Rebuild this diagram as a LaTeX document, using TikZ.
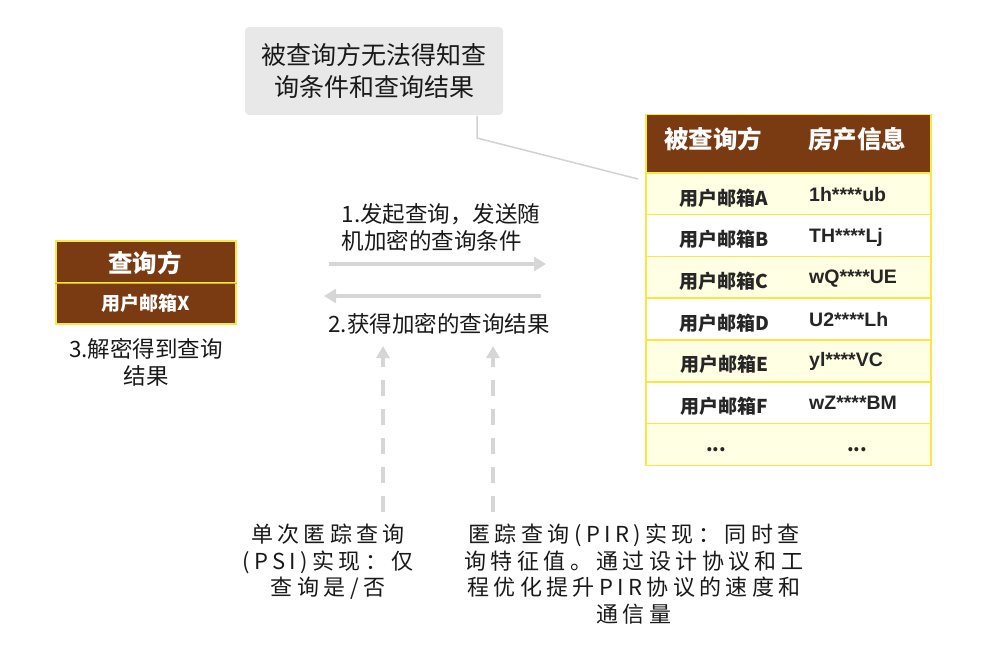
\documentclass[tikz,border=0pt]{standalone}
\usepackage{fontspec}
\setmainfont{Noto Sans CJK SC}
\newfontfamily\spaced[LetterSpace=20]{Noto Sans CJK SC}
\newfontfamily\arialfont[BoldFont={Liberation Sans Bold}]{Liberation Sans}
\usetikzlibrary{arrows.meta}
\definecolor{brownhdr}{RGB}{122,59,18}
\definecolor{ylborder}{RGB}{246,232,70}
\definecolor{goldline}{RGB}{214,178,20}
\definecolor{lightyl}{RGB}{255,255,228}
\definecolor{arrowgrey}{RGB}{214,214,214}
\definecolor{boxgrey}{RGB}{232,232,232}
\definecolor{linegrey}{RGB}{210,210,210}
\tikzset{
  hdrcell/.style={fill=brownhdr, draw=ylborder, line width=1.5pt, minimum height=58pt, inner sep=0pt},
  rowcellA/.style={fill=lightyl, draw=ylborder, line width=1.5pt, minimum height=41.8pt, minimum width=285pt, inner sep=0pt},
  rowcellB/.style={fill=white, draw=ylborder, line width=1.5pt, minimum height=41.8pt, minimum width=285pt, inner sep=0pt},
  rowtxt/.style={font=\fontsize{19}{20}\selectfont\bfseries, text=black!85, inner sep=0pt},
  valtxt/.style={font=\arialfont\bfseries\fontsize{19.5}{20}\selectfont, text=black!85, inner sep=0pt},
  hdrtxt/.style={font=\fontsize{24.5}{26}\selectfont\bfseries, text=white, inner sep=0pt},
  midtxt/.style={font=\fontsize{22.5}{27}\selectfont, text=black!90, align=left, inner sep=0pt},
  bottxt/.style={font=\spaced\fontsize{22}{26.5}\selectfont, text=black!90, align=center, inner sep=0pt},
  flowarrow/.style={draw=arrowgrey, line width=4pt, -{Triangle[length=12pt,width=14pt]}},
  dasharrow/.style={draw=arrowgrey, line width=4pt, dash pattern=on 16pt off 13pt, -{Triangle[length=12pt,width=13pt]}},
}
\begin{document}
\begin{tikzpicture}[x=1pt,y=-1pt]
\useasboundingbox (0,0) rectangle (985,650);
% title box
\node[fill=boxgrey, rounded corners=4pt, minimum width=258pt, minimum height=88pt, inner sep=0pt,
      font=\fontsize{25}{32}\selectfont, align=center, text=black!90] (title) at (374,71)
      {被查询方无法得知查\\询条件和查询结果};
\coordinate (bend) at (477,138);
\coordinate (tabcorner) at (638,179);
\draw[linegrey, line width=1.5pt] (477,116) -- (bend) -- (tabcorner);
% table
\node[hdrcell, minimum width=285pt, anchor=north west] (hdr) at (645,114) {};
\node[hdrtxt] (h1) at (713,139) {被查询方};
\node[hdrtxt] (h2) at (857,139) {房产信息};
\node[rowcellA, anchor=north west] (rA) at (645,172) {};
\node[rowcellB, anchor=north west] (rB) at (645,213.8) {};
\node[rowcellA, anchor=north west] (rC) at (645,255.6) {};
\node[rowcellB, anchor=north west] (rD) at (645,297.4) {};
\node[rowcellA, anchor=north west] (rE) at (645,339.2) {};
\node[rowcellB, anchor=north west] (rF) at (645,381) {};
\node[rowcellA, anchor=north west] (rG) at (645,422.8) {};
\node[rowtxt] (la) at (724,198) {用户邮箱A};
\node[rowtxt] (lb) at (724,239.5) {用户邮箱B};
\node[rowtxt] (lc) at (724,281.5) {用户邮箱C};
\node[rowtxt] (ld) at (724,323) {用户邮箱D};
\node[rowtxt] (le) at (724,364.5) {用户邮箱E};
\node[rowtxt] (lf) at (724,406) {用户邮箱F};
\node[rowtxt] (lg) at (716,450) {...};
\node[valtxt, anchor=west] (va) at (809,195) {1h****ub};
\node[valtxt, anchor=west] (vb) at (809,237) {TH****Lj};
\node[valtxt, anchor=west] (vc) at (809,278.5) {wQ****UE};
\node[valtxt, anchor=west] (vd) at (809,320) {U2****Lh};
\node[valtxt, anchor=west] (ve) at (809,361) {yl****VC};
\node[valtxt, anchor=west] (vf) at (809,402.5) {wZ****BM};
\node[rowtxt] (vg) at (857,450) {...};
% query box
\node[fill=brownhdr, draw=ylborder, line width=1.5pt, minimum width=180pt, minimum height=42pt, anchor=north west, inner sep=0pt] (qh) at (55,240) {};
\node[fill=brownhdr, draw=ylborder, line width=1.5pt, minimum width=180pt, minimum height=41pt, anchor=north west, inner sep=0pt] (qr) at (55,282) {};
\draw[goldline, line width=1.5pt] (qh.south west) -- (qh.south east);
\node[hdrtxt] (qht) at (145,263) {查询方};
\node[rowtxt, text=white] (qrt) at (146,303) {用户邮箱X};
\node[midtxt, align=center] (dec) at (146,362) {3.解密得到查询\\结果};
% flow arrows
\node[midtxt] (t1) at (441,227) {1.发起查询，发送随\\机加密的查询条件};
\coordinate (a1s) at (329,264);
\coordinate (a1e) at (546,264);
\draw[flowarrow] (a1s) -- (a1e);
\coordinate (a2s) at (541,296);
\coordinate (a2e) at (324,296);
\draw[flowarrow] (a2s) -- (a2e);
\node[midtxt] (t2) at (439,324) {2.获得加密的查询结果};
% dashed arrows
\node[bottxt] (psi) at (328,562) {单次匿踪查询\\(PSI)实现：仅\\查询是/否};
\node[bottxt] (pir) at (634,574) {匿踪查询(PIR)实现：同时查\\询特征值。通过设计协议和工\\程优化提升PIR协议的速度和\\通信量};
\coordinate (d1s) at (383,512);
\coordinate (d1e) at (383,346);
\coordinate (d2s) at (493,512);
\coordinate (d2e) at (493,346);
\draw[dasharrow] (d1s) -- (d1e);
\draw[dasharrow] (d2s) -- (d2e);
\end{tikzpicture}
\end{document}
